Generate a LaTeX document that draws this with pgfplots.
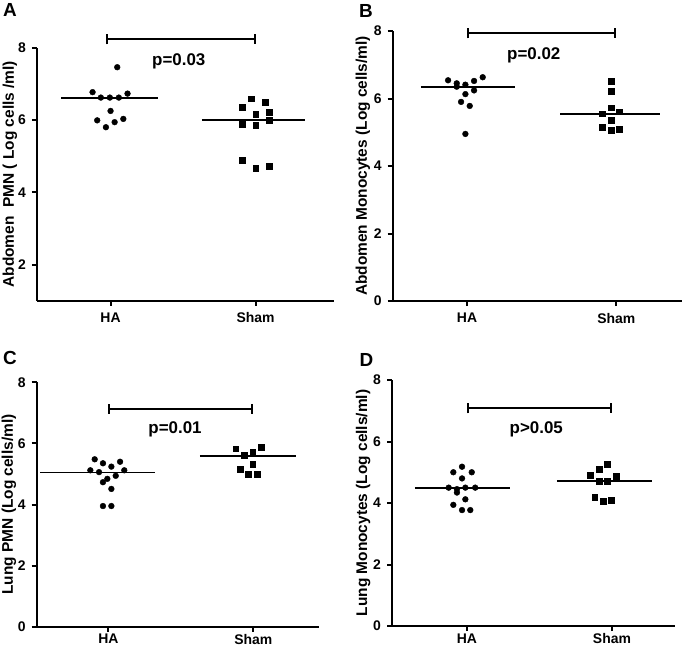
\documentclass[border=0pt]{standalone}
\usepackage{fontspec}
\setmainfont{Liberation Sans}
\usepackage{pgfplots}
\pgfplotsset{compat=1.18}
\usetikzlibrary{arrows.meta}

\newcommand{\fs}[1]{\bfseries\fontsize{#1}{#1}\selectfont}

\pgfplotsset{
  panel/.style={
    scale only axis,
    axis x line=bottom, axis y line=left,
    axis line style={line width=2bp, black, -},
    tick style={line width=2bp, black},
    tick align=outside,
    major tick length=5bp,
    minor tick num=0,
    xtick={1,2}, xticklabels={HA,Sham},
    /pgf/number format/assume math mode=true,
    tick label style={font=\fs{14}},
    yticklabel style={xshift=-2.5bp},
    xticklabel style={yshift=-3.5bp},
    ylabel style={font=\fs{15.5}, rotate=0, anchor=center},
    clip=false,
  },
  ha/.style={only marks, mark=*, mark size=2.9bp, black},
  sham/.style={only marks, mark=square*, mark size=2.9bp, black},
  med/.style={black, line width=1.8bp, mark=none},
}
\tikzset{bracket/.style={line width=2bp, {Bar[width=10bp]}-{Bar[width=10bp]}}}

\begin{document}
\begin{tikzpicture}
\useasboundingbox (0,0) rectangle (685bp,-647bp);

% ---- A ----
\begin{axis}[panel, at={(37bp,-300.7bp)}, anchor=south west,
  width=297bp, height=253bp,
  xmin=0.493, xmax=2.54, ymin=1, ymax=8, ytick={2,4,6,8},
  ylabel={Abdomen\ \ PMN ( Log cells /ml)},
  ylabel style={at={(axis description cs:-0.091,0.5)}}]
\addplot[ha] coordinates {(1.046,7.46) (0.876,6.77) (0.933,6.62) (0.995,6.62)
  (1.057,6.62) (1.117,6.73) (1.0,6.25) (0.908,5.99) (1.088,6.03) (1.028,5.94) (0.968,5.80)};
\addplot[sham] coordinates {(1.97,6.59) (2.064,6.49) (1.906,6.35) (2.0,6.16)
  (2.094,6.21) (1.906,5.89) (2.0,5.85) (2.094,5.99) (1.906,4.88) (2.0,4.66) (2.094,4.73)};
\addplot[med] coordinates {(0.66,6.6) (1.33,6.6)};
\addplot[med] coordinates {(1.63,6.0) (2.34,6.0)};
\draw[bracket] (axis cs:0.967,8.23) -- (axis cs:2,8.23);
\node[font=\fs{17}] at (axis cs:1.47,7.63) {p=0.03};
\end{axis}

% ---- B ----
\begin{axis}[panel, at={(392.7bp,-301bp)}, anchor=south west,
  width=289.3bp, height=270bp,
  xmin=0.502, xmax=2.44, ymin=0, ymax=8, ytick={0,2,4,6,8},
  ylabel={Abdomen Monocytes (Log cells/ml)},
  ylabel style={at={(axis description cs:-0.103,0.5)}}]
\addplot[ha] coordinates {(0.873,6.54) (0.931,6.45) (0.931,6.35) (0.989,6.41)
  (1.047,6.52) (1.105,6.63) (1.047,6.24) (0.989,6.13) (0.96,5.90) (1.018,5.78) (0.989,4.95)};
\addplot[sham] coordinates {(1.963,6.51) (1.963,6.21) (1.963,5.73) (1.904,5.55)
  (2.02,5.61) (1.963,5.36) (1.904,5.16) (1.963,5.05) (2.02,5.10)};
\addplot[med] coordinates {(0.69,6.33) (1.32,6.33)};
\addplot[med] coordinates {(1.625,5.54) (2.29,5.54)};
\draw[bracket] (axis cs:1,7.93) -- (axis cs:2,7.93);
\node[font=\fs{17}] at (axis cs:1.447,7.29) {p=0.02};
\end{axis}

% ---- C ----
\begin{axis}[panel, at={(36.7bp,-626.7bp)}, anchor=south west,
  width=282.6bp, height=244.4bp,
  xmin=0.506, xmax=2.455, ymin=0, ymax=8, ytick={0,2,4,6,8},
  xticklabel style={yshift=4.5bp},
  ylabel={Lung PMN (Log cells/ml)},
  ylabel style={at={(axis description cs:-0.098,0.5)}}]
\addplot[ha] coordinates {(0.906,5.48) (0.963,5.35) (1.021,5.24) (1.081,5.40)
  (0.876,5.12) (0.936,5.06) (1.11,5.12) (1.051,4.94) (0.993,4.84) (0.963,4.73)
  (1.021,4.51) (0.963,3.95) (1.021,3.95)};
\addplot[sham] coordinates {(1.879,5.83) (1.936,5.62) (1.996,5.70) (2.055,5.88)
  (1.996,5.32) (1.908,5.15) (1.966,4.98) (2.026,5.00)};
\addplot[med] coordinates {(0.53,5.05) (1.32,5.05)};
\addplot[med] coordinates {(1.632,5.60) (2.292,5.60)};
\draw[bracket] (axis cs:1,7.13) -- (axis cs:2,7.13);
\node[font=\fs{17}] at (axis cs:1.46,6.46) {p=0.01};
\end{axis}

% ---- D ----
\begin{axis}[panel, at={(392bp,-626bp)}, anchor=south west,
  width=283.3bp, height=246bp,
  xmin=0.483, xmax=2.437, ymin=0, ymax=8, ytick={0,2,4,6,8},
  xticklabel style={yshift=4.5bp},
  ylabel={Lung Monocytes (Log cells/ml)},
  ylabel style={at={(axis description cs:-0.102,0.5)}}]
\addplot[ha] coordinates {(0.966,5.18) (0.906,5.0) (1.033,5.0) (0.966,4.80)
  (0.874,4.50) (0.931,4.45) (0.931,4.34) (0.989,4.50) (1.057,4.50) (0.989,4.12)
  (0.906,3.94) (0.966,3.77) (1.023,3.77)};
\addplot[sham] coordinates {(1.968,5.25) (1.91,5.09) (1.85,4.90) (1.91,4.71)
  (1.968,4.71) (2.032,4.86) (1.881,4.19) (1.937,4.06) (1.997,4.10)};
\addplot[med] coordinates {(0.64,4.49) (1.30,4.49)};
\addplot[med] coordinates {(1.62,4.71) (2.276,4.71)};
\draw[bracket] (axis cs:1,7.08) -- (axis cs:2,7.08);
\node[font=\fs{17}] at (axis cs:1.478,6.41) {p>0.05};
\end{axis}

% panel letters
\node[font=\fs{19}] at (10bp,-10bp) {A};
\node[font=\fs{19}] at (366bp,-11bp) {B};
\node[font=\fs{19}] at (10bp,-358bp) {C};
\node[font=\fs{19}] at (366.5bp,-359.5bp) {D};
\end{tikzpicture}
\end{document}
